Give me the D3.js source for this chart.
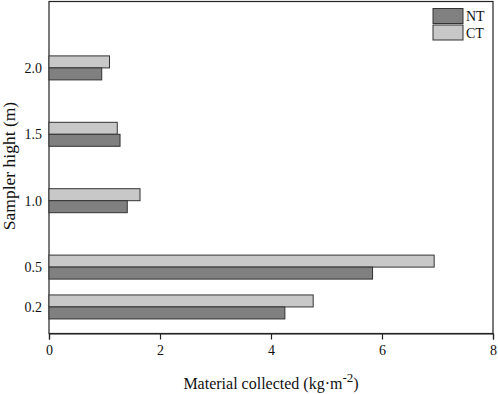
<!DOCTYPE html>
<html><head><meta charset="utf-8">
<script src="https://cdn.jsdelivr.net/npm/d3@7"></script>
<style>body{margin:0;background:#fff}svg{display:block}</style>
</head><body>
<svg id="c" width="498" height="394" font-family="Liberation Serif, DejaVu Serif, serif"></svg>
<script>
const heights = [0.2, 0.5, 1.0, 1.5, 2.0];
const heightLabels = ["0.2", "0.5", "1.0", "1.5", "2.0"];
const seriesNames = ["NT", "CT"];
const ntValues = [4.25, 5.83, 1.41, 1.28, 0.95];
const ctValues = [4.76, 6.94, 1.64, 1.23, 1.09];
const xTicks = [0, 2, 4, 6, 8];
const colors = {NT: "#808080", CT: "#c8c8c8"};
const FONT = "Liberation Serif, DejaVu Serif, serif";

const svg = d3.select("#c");
const L = 49, R = 493, T = 1.5, B = 333.5;
const x = d3.scaleLinear().domain([0, 8]).range([L, R]);
const y = d3.scaleLinear().domain([0, 2.5]).range([B, T]);
const bh = 12;

svg.append("rect").attr("x", L).attr("y", T).attr("width", R - L).attr("height", B - T)
  .attr("fill", "none").attr("stroke", "#222").attr("stroke-width", 1.2);

const data = heights.map((h, i) => ({h, NT: ntValues[i], CT: ctValues[i]}));
svg.append("g").selectAll("rect").data(data).join("rect")
  .attr("x", x(0)).attr("y", d => y(d.h) - bh).attr("width", d => x(d.CT) - x(0)).attr("height", bh)
  .attr("fill", colors.CT).attr("stroke", "#333").attr("stroke-width", 1);
svg.append("g").selectAll("rect").data(data).join("rect")
  .attr("x", x(0)).attr("y", d => y(d.h)).attr("width", d => x(d.NT) - x(0)).attr("height", bh)
  .attr("fill", colors.NT).attr("stroke", "#333").attr("stroke-width", 1);

const xa = svg.append("g").attr("transform", `translate(0,${B})`)
  .call(d3.axisBottom(x).tickValues(xTicks).tickFormat(d3.format("d")).tickSize(6).tickPadding(6));
xa.attr("font-family", FONT).attr("font-size", 14);
xa.select(".domain").attr("stroke", "#222").attr("stroke-width", 1.2);
xa.selectAll(".tick line").attr("stroke", "#222").attr("stroke-width", 1.2);
xa.selectAll("text").attr("fill", "#111");

const ya = svg.append("g").attr("transform", `translate(${L},0)`)
  .call(d3.axisLeft(y).tickValues(heights).tickFormat((d, i) => heightLabels[i]).tickSize(0).tickPadding(7));
ya.attr("font-family", FONT).attr("font-size", 14);
ya.select(".domain").remove();
ya.selectAll("text").attr("fill", "#111");

const xt = svg.append("text").attr("x", 271).attr("y", 389).attr("text-anchor", "middle")
  .attr("font-size", 16).attr("fill", "#111");
xt.append("tspan").text("Material collected (kg·m");
xt.append("tspan").attr("dy", -7).attr("font-size", 13).text("-2");
xt.append("tspan").attr("dy", 7).text(")");

svg.append("text").attr("transform", "translate(15,166) rotate(-90)").attr("text-anchor", "middle")
  .attr("font-size", 17.5).attr("fill", "#111").text("Sampler hight (m)");

const lg = svg.append("g");
seriesNames.forEach((s, i) => {
  lg.append("rect").attr("x", 433).attr("y", 8.5 + i * 16.5).attr("width", 30).attr("height", 15)
    .attr("fill", colors[s]).attr("stroke", "#333").attr("stroke-width", 1);
  lg.append("text").attr("x", 466).attr("y", 21 + i * 16.5).attr("font-size", 14).attr("fill", "#111").text(s);
});
</script>
</body></html>
